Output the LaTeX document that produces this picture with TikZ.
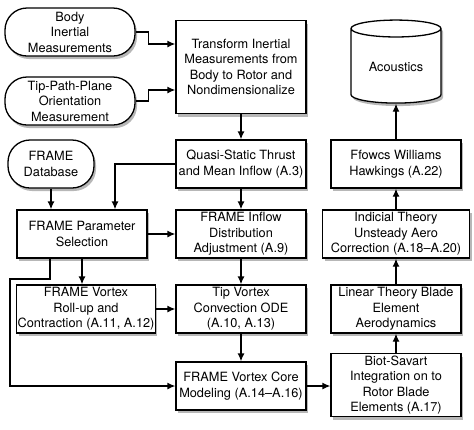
\documentclass[tikz,border=0pt]{standalone}
\usepackage{fontspec}
\setmainfont{TeX Gyre Heros}
\usetikzlibrary{shapes.geometric, shadows, arrows.meta}

\tikzset{
  shade/.style={drop shadow={shadow xshift=2bp, shadow yshift=-3bp, opacity=0.4, fill=black!70}},
  box/.style={draw, line width=1.3bp, fill=white, align=center, inner sep=1bp,
    minimum width=130bp, minimum height=48bp, shade,
    font=\fontsize{12.8}{15.5}\selectfont},
  roundbox/.style={box, rounded corners=22bp},
  drum/.style={box, cylinder, shape border rotate=90, aspect=0.3,
    minimum width=90bp, minimum height=83bp},
  arr/.style={line width=1.3bp, -{Latex[length=8bp, width=7bp]}}
}

\begin{document}
\begin{tikzpicture}[x=1bp, y=-1bp]
  \useasboundingbox (0, 0) rectangle (474, 429);

  % inputs
  \node[roundbox] (body) at (70, 32) {Body\\Inertial\\Measurements};
  \node[roundbox] (tpp) at (70, 101) {Tip-Path-Plane\\Orientation\\Measurement};
  \node[roundbox, minimum width=86bp] (database) at (51, 164) {FRAME\\Database};

  % middle column
  \node[box, minimum height=93bp] (transform) at (241, 67)
    {Transform Inertial\\Measurements from\\Body to Rotor and\\Nondimensionalize};
  \node[box] (quasi) at (241, 164) {Quasi-Static Thrust\\and Mean Inflow (A.3)};
  \node[box] (inflow) at (241, 234) {FRAME Inflow\\Distribution\\Adjustment (A.9)};
  \node[box] (tipvortex) at (241, 309) {Tip Vortex\\Convection ODE\\(A.10, A.13)};
  \node[box] (core) at (241, 386) {FRAME Vortex Core\\Modeling (A.14–A.16)};

  % left column
  \node[box] (param) at (82, 234) {FRAME Parameter\\Selection};
  \node[box, minimum width=138bp] (rollup) at (86, 309)
    {FRAME Vortex\\Roll-up and\\Contraction (A.11, A.12)};

  % right column
  \node[box, minimum height=63bp] (biot) at (396, 385)
    {Biot-Savart\\Integration on to\\Rotor Blade\\Elements (A.17)};
  \node[box] (linear) at (396, 309) {Linear Theory Blade\\Element\\Aerodynamics};
  \node[box, minimum width=147bp] (indicial) at (396, 234)
    {Indicial Theory\\Unsteady Aero\\Correction (A.18–A.20)};
  \node[box] (ffowcs) at (396, 164) {Ffowcs Williams\\Hawkings (A.22)};
  \node[drum] (acoustics) at (396, 67) {Acoustics};

  \coordinate (bend) at (10, 279);

  % connectors
  \draw[arr] (body.east) -- ++(13, 0) |- ([yshift=23bp]transform.west);
  \draw[arr] (tpp.east) -- ++(13, 0) |- ([yshift=-23bp]transform.west);
  \draw[arr] (transform) -- (quasi);
  \draw[arr] (quasi) -- (inflow);
  \draw[arr] (quasi.west) -| ([xshift=33bp]param.north);
  \draw[arr] (database.south) -- (database.south |- param.north);
  \draw[arr] (param) -- (inflow);
  \draw[arr] (param) -- (param.south |- rollup.north);
  \draw[arr] ([xshift=-32bp]param.south) |- (bend) |- (core.west);
  \draw[arr] (inflow) -- (tipvortex);
  \draw[arr] (rollup) -- (tipvortex);
  \draw[arr] (tipvortex) -- (core);
  \draw[arr] (core) -- (core -| biot.west);
  \draw[arr] (biot) -- (linear);
  \draw[arr] (linear) -- (indicial);
  \draw[arr] (indicial) -- (ffowcs);
  \draw[arr] (ffowcs) -- (acoustics);
\end{tikzpicture}
\end{document}
